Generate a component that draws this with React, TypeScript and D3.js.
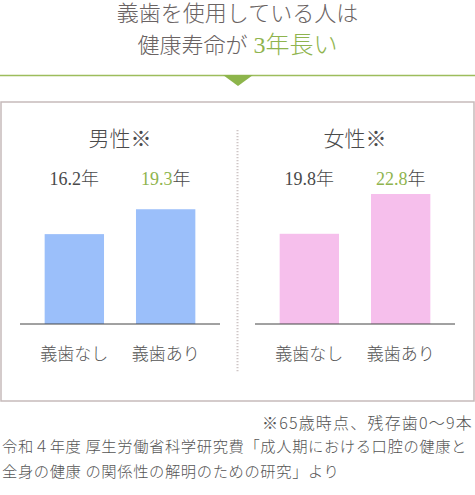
import * as d3 from "d3";

// カテゴリ
const groups = ["義歯なし", "義歯あり"];

// 健康寿命(年) 65歳時点
const maleYears = [16.2, 19.3];
const femaleYears = [19.8, 22.8];

// 各パネルの軸の範囲(元の図は0起点ではなく、パネルごとに別スケール)
const maleAxisDomain = [5, 21.2];
const femaleAxisDomain = [13, 22.8];

const titleLines = ["義歯を使用している人は", "健康寿命が", "3年長い"];
const footnote = "※65歳時点、残存歯0〜9本";
const sourceLines = [
  "令和４年度 厚生労働省科学研究費「成人期における口腔の健康と",
  "全身の健康 の関係性の解明のための研究」より",
];

const WIDTH = 475;
const HEIGHT = 495;
const SERIF = "'Liberation Serif', 'Noto Sans CJK JP', serif";
const SANS = "'Noto Sans CJK JP', 'Noto Sans', sans-serif";
const GREEN = "#8fb44e";
const TEXT = "#4a4a4a";

type Panel = {
  title: string;
  values: number[];
  domain: number[];
  color: string;
  x0: number;
  x1: number;
};

const panels: Panel[] = [
  { title: "男性※", values: maleYears, domain: maleAxisDomain, color: "#9bbffa", x0: 20, x1: 220 },
  { title: "女性※", values: femaleYears, domain: femaleAxisDomain, color: "#f6bfec", x0: 255, x1: 455 },
];

const baseline = 324;
const topY = 194;

function PanelChart({ panel }: { panel: Panel }) {
  const xScale = d3
    .scaleBand()
    .domain(groups)
    .range([panel.x0, panel.x1])
    .paddingInner(0.35)
    .paddingOuter(0.27);

  const yScale = d3
    .scaleLinear()
    .domain(panel.domain)
    .range([baseline, topY]);

  const cx = (panel.x0 + panel.x1) / 2;

  return (
    <g>
      <text
        x={cx}
        y={146}
        textAnchor="middle"
        fontFamily={SERIF}
        fontWeight={300}
        fontSize={21}
        fill={TEXT}
      >
        {panel.title}
      </text>
      {panel.values.map((v, i) => {
        const g = groups[i];
        const x = xScale(g) ?? 0;
        return (
          <g key={g}>
            <rect
              x={x}
              y={yScale(v)}
              width={xScale.bandwidth()}
              height={baseline - yScale(v)}
              fill={panel.color}
            />
            <text
              x={x + xScale.bandwidth() / 2}
              y={185}
              textAnchor="middle"
              fontFamily={SERIF}
              fontWeight={300}
              fontSize={18}
              fill={TEXT}
            >
              <tspan fill={i === 1 ? GREEN : TEXT}>{v.toFixed(1)}</tspan>
              <tspan>年</tspan>
            </text>
            <text
              x={x + xScale.bandwidth() / 2}
              y={360}
              textAnchor="middle"
              fontFamily={SERIF}
              fontWeight={300}
              fontSize={17}
              fill="#555"
            >
              {g}
            </text>
          </g>
        );
      })}
      <line
        x1={panel.x0}
        x2={panel.x1}
        y1={baseline}
        y2={baseline}
        stroke="#444"
        strokeWidth={1}
      />
    </g>
  );
}

export default function App() {
  return (
    <svg
      width={WIDTH}
      height={HEIGHT}
      viewBox={`0 0 ${WIDTH} ${HEIGHT}`}
      style={{ position: "absolute", left: 0, top: 0, background: "#fff" }}
    >
      {/* 見出し */}
      <text
        x={WIDTH / 2}
        y={21}
        textAnchor="middle"
        fontFamily={SERIF}
        fontWeight={300}
        fontSize={22}
        fill="#6a6363"
      >
        {titleLines[0]}
      </text>
      <text
        x={WIDTH / 2}
        y={53}
        textAnchor="middle"
        fontFamily={SERIF}
        fontWeight={300}
        fontSize={22}
        fill="#6a6363"
      >
        {titleLines[1]}
        <tspan fill={GREEN} fontSize={24} dx={6}>
          {titleLines[2]}
        </tspan>
      </text>

      <line x1={0} x2={WIDTH} y1={75.5} y2={75.5} stroke="#9dbd5c" strokeWidth={1.5} />
      <path d="M223,75 L253,75 L238,86 Z" fill="#8db54b" />

      {/* 枠 */}
      <rect
        x={1}
        y={102}
        width={WIDTH - 2}
        height={299}
        fill="none"
        stroke="#c6baba"
        strokeWidth={1.5}
      />
      <line
        x1={237.5}
        x2={237.5}
        y1={130}
        y2={372}
        stroke="#cfc6c6"
        strokeWidth={2}
        strokeDasharray="1.2 1.8"
      />

      {panels.map((p) => (
        <PanelChart key={p.title} panel={p} />
      ))}

      {/* 注記 */}
      <text
        x={473}
        y={429}
        textAnchor="end"
        fontFamily={SANS}
        fontWeight={300}
        fontSize={16}
        letterSpacing={1.2}
        fill="#555"
      >
        {footnote}
      </text>
      {sourceLines.map((line, i) => (
        <text
          key={i}
          x={2}
          y={452 + i * 25}
          fontFamily={SANS}
          fontWeight={300}
          fontSize={15.3}
          letterSpacing={0.6}
          fill="#555"
        >
          {line}
        </text>
      ))}
    </svg>
  );
}
